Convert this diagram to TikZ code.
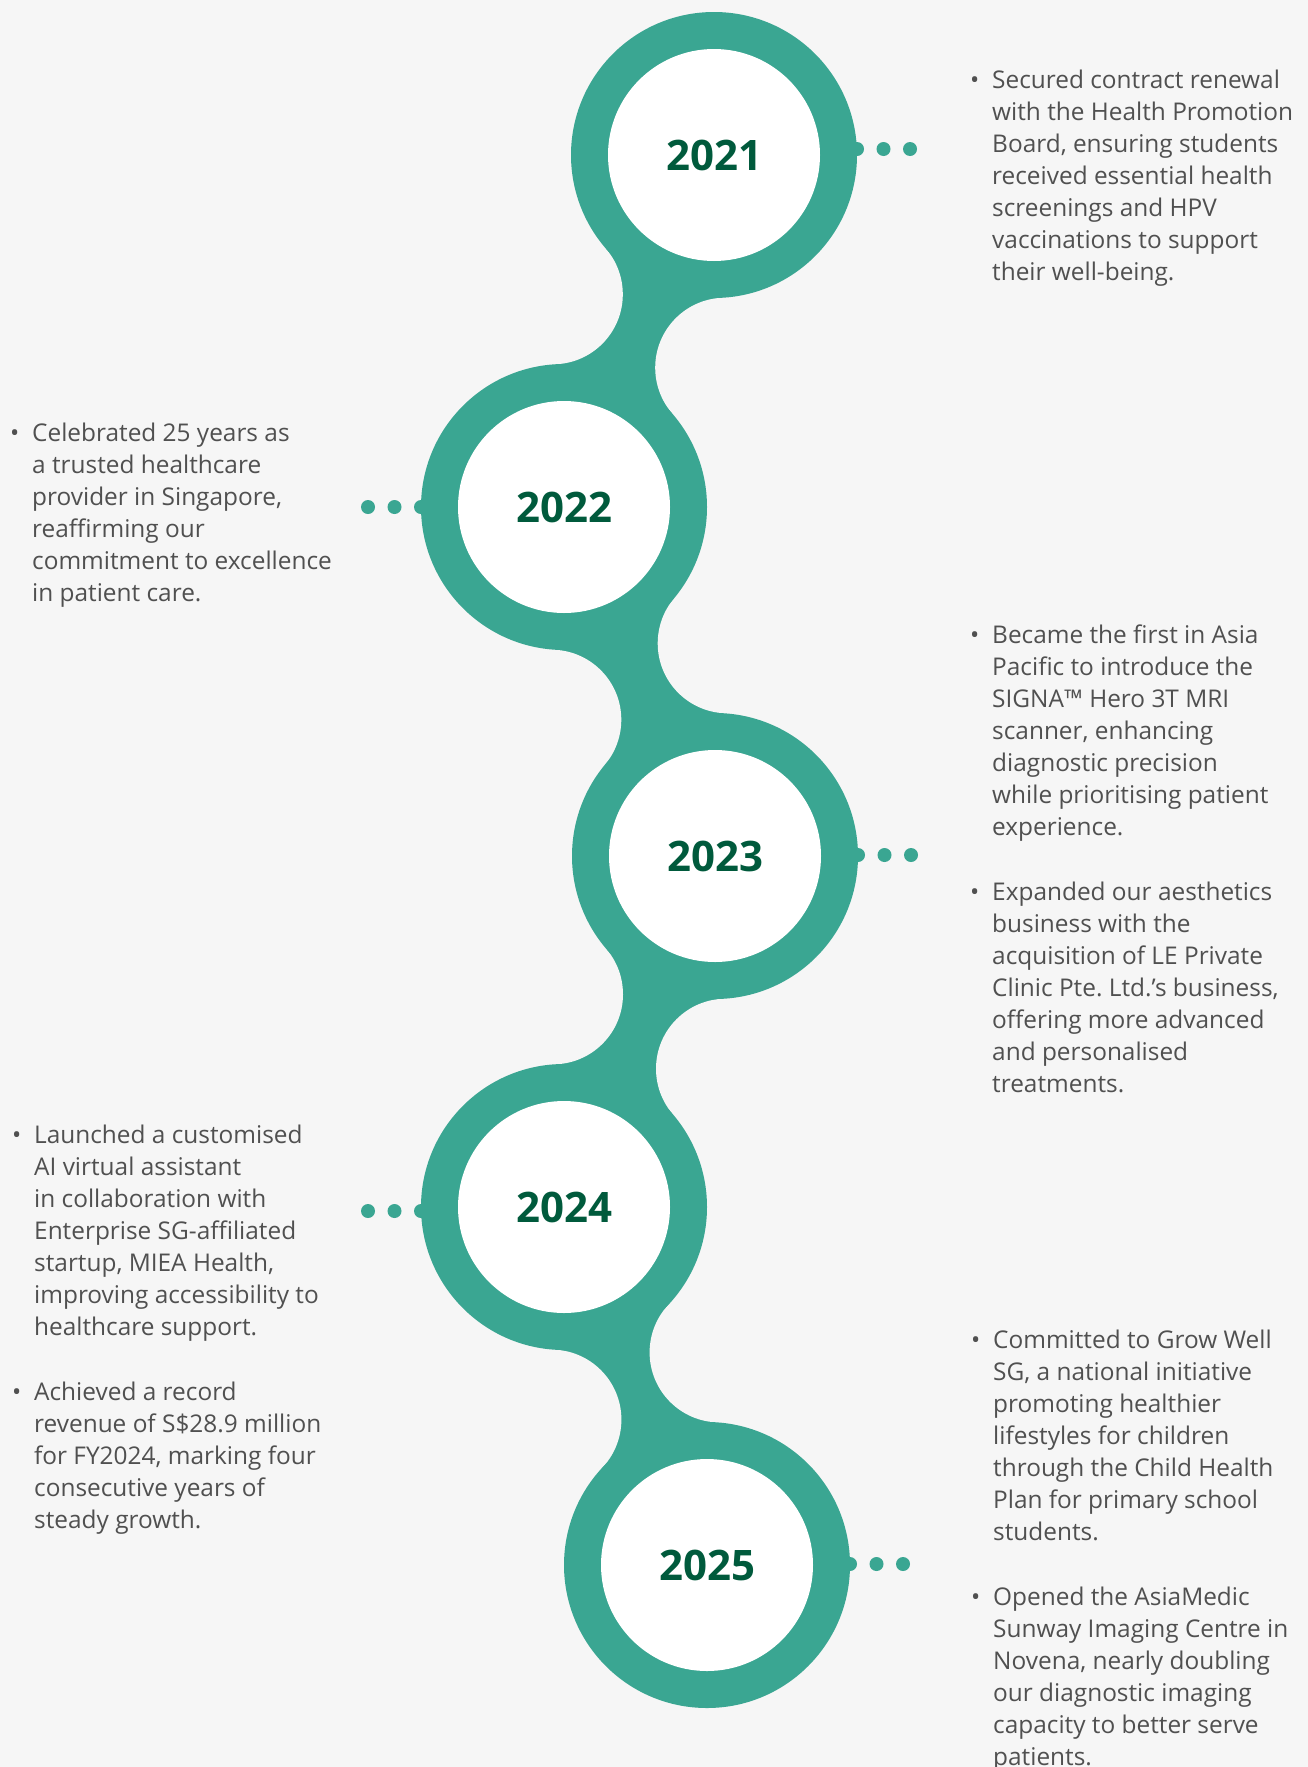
\documentclass[tikz,border=0pt]{standalone}
\usepackage{fontspec}
\setmainfont{Open Sans}

\definecolor{chain}{RGB}{58,166,146}
\definecolor{yeargreen}{RGB}{0,90,60}
\definecolor{notegray}{RGB}{80,80,80}
\definecolor{paper}{RGB}{246,246,246}

\newcommand\notebullet{\llap{•\hspace{13pt}}\strut}

\tikzset{
    note/.style={anchor=north west, inner sep=0pt, align=left, yshift=22.5pt, text=notegray,
        font=\fontsize{24.4}{32.1}\selectfont},
    year/.style={text=yeargreen, font=\fontsize{42}{42}\selectfont\bfseries},
}

\begin{document}
\begin{tikzpicture}[x=1pt, y=-1pt]
    \fill [paper] (0, 0) rectangle (1308, 1767);
    \clip (0, 0) rectangle (1308, 1767);

    % necks between the rings
    \fill [chain] (714, 155) -- (552.8, 294.3) -- (564, 507) -- (725.2, 367.7) -- cycle;
    \fill [chain] (564, 507) -- (551.3, 719.7) -- (715, 856) -- (727.7, 643.3) -- cycle;
    \fill [chain] (715, 856) -- (553, 994.3) -- (564, 1207) -- (726, 1068.7) -- cycle;
    \fill [chain] (564, 1207) -- (551.4, 1419.6) -- (707, 1565) -- (719.6, 1352.4) -- cycle;
    \foreach \cx/\cy in {552.8/294.3, 725.2/367.7, 551.3/719.7, 727.7/643.3,
                         553/994.3, 726/1068.7, 551.4/1419.6, 719.6/1352.4}
        \fill [paper] (\cx, \cy) circle (70);

    % rings
    \foreach \yr/\cx/\cy in {2021/714/155, 2022/564/507, 2023/715/856, 2024/564/1207, 2025/707/1565} {
        \fill [chain] (\cx, \cy) circle (143);
        \fill [white] (\cx, \cy) circle (106);
        \node [year] (y\yr) at (\cx, \cy) {\yr};
    }

    % dots
    \foreach \cx/\cy/\s in {714/149/1, 564/507/-1, 715/855/1, 564/1211/-1, 707/1564/1}
        \foreach \k in {0, 1, 2}
            \fill [chain] (\cx + \s*143 + \s*\k*26.5, \cy) circle (7);

    \node [note] (n2021) at (992, 88) {\notebullet Secured contract renewal\\with the Health Promotion\\Board, ensuring students\\
        received essential health\\screenings and HPV\\vaccinations to support\\their well-being.};
    \node [note] (n2022) at (32, 441) {\notebullet Celebrated 25 years as\\a trusted healthcare\\provider in Singapore,\\
        reaffirming our\\commitment to excellence\\in patient care.};
    \node [note] (n2023a) at (992, 643) {\notebullet Became the first in Asia\\Pacific to introduce the\\SIGNA™ Hero 3T MRI\\
        scanner, enhancing\\diagnostic precision\\while prioritising patient\\experience.};
    \node [note] (n2023b) at (992, 900) {\notebullet Expanded our aesthetics\\business with the\\acquisition of LE Private\\
        Clinic Pte.\ Ltd.’s business,\\offering more advanced\\and personalised\\treatments.};
    \node [note] (n2024a) at (34, 1143) {\notebullet Launched a customised\\AI virtual assistant\\in collaboration with\\
        Enterprise SG-affiliated\\startup, MIEA Health,\\improving accessibility to\\healthcare support.};
    \node [note] (n2024b) at (34, 1400) {\notebullet Achieved a record\\revenue of S\$28.9 million\\for FY2024, marking four\\
        consecutive years of\\steady growth.};
    \node [note] (n2025a) at (993, 1348) {\notebullet Committed to Grow Well\\SG, a national initiative\\promoting healthier\\
        lifestyles for children\\through the Child Health\\Plan for primary school\\students.};
    \node [note] (n2025b) at (993, 1605) {\notebullet Opened the AsiaMedic\\Sunway Imaging Centre in\\Novena, nearly doubling\\
        our diagnostic imaging\\capacity to better serve\\patients.};
\end{tikzpicture}
\end{document}
